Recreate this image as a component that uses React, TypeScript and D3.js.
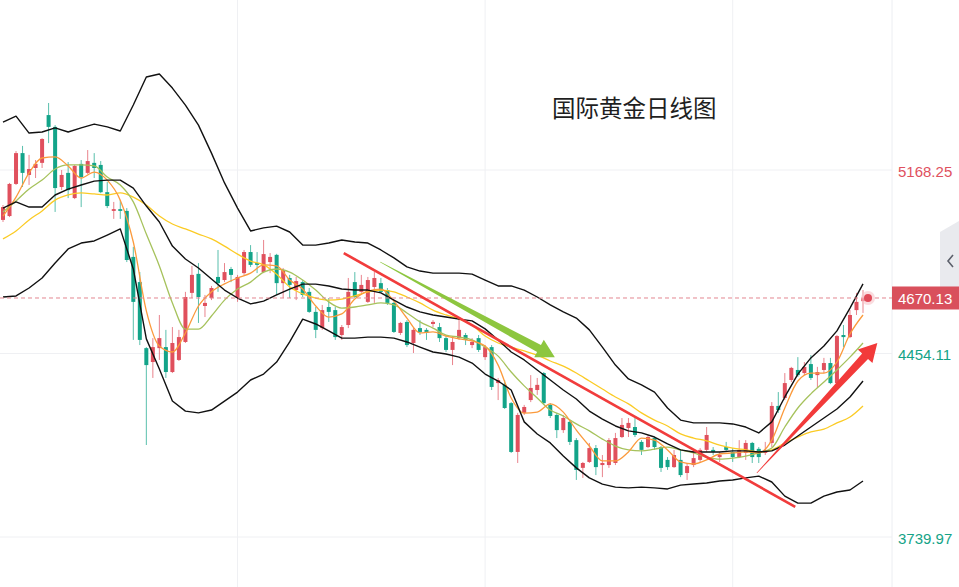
import React from 'react';
import * as d3 from 'd3';

// ---- candle data (daily, oldest -> newest) ----
const openP = [4974,4989,5114,5234,5149,5176,5196,5382,5336,5102,
5157,5059,5192,5157,5196,5188,5082,5009,5016,5009,
4830,4732,4475,4421,4475,4479,4382,4429,4499,4690,
4764,4639,4670,4752,4740,4783,4670,4767,4849,4806,
4771,4810,4838,4728,4748,4701,4732,4694,4616,4553,
4635,4623,4526,4565,4732,4694,4655,4713,4728,4701,
4651,4534,4577,4495,4553,4546,4569,4557,4514,4468,
4514,4526,4487,4514,4440,4479,4339,4332,4261,4071,
4223,4273,4312,4378,4254,4215,4156,4188,4117,4009,
4032,4086,4020,4020,4028,4129,4164,4168,4110,4090,
4125,4090,4040,4012,4040,3989,4020,4040,4079,4079,
4051,4090,4071,4051,4067,4106,4083,4067,4106,4250,
4281,4351,4390,4378,4413,4370,4390,4417,4339,4526,
4518,4623,4658];
const highP = [5032,5118,5242,5262,5227,5207,5292,5429,5343,5168,
5199,5188,5207,5246,5234,5203,5122,5044,5051,5020,
4869,4771,4479,4514,4604,4546,4557,4546,4694,4795,
4806,4682,4717,4857,4806,4791,4760,4857,4876,4849,
4896,4845,4842,4787,4760,4752,4740,4709,4635,4643,
4670,4635,4565,4748,4771,4760,4752,4771,4748,4709,
4655,4577,4584,4553,4584,4553,4584,4573,4526,4522,
4596,4534,4514,4526,4487,4487,4359,4351,4265,4223,
4254,4370,4359,4382,4261,4223,4215,4195,4125,4032,
4106,4098,4059,4125,4145,4203,4203,4203,4117,4137,
4129,4094,4051,4079,4079,4028,4079,4086,4168,4090,
4071,4110,4086,4117,4117,4110,4090,4110,4265,4304,
4378,4402,4440,4421,4448,4402,4437,4437,4526,4565,
4623,4690,4701];
const lowP = [4966,4985,5110,5102,5110,5137,5176,5273,5005,5090,
5059,5055,5024,5152,5137,5078,5020,4978,4978,4810,
4507,4487,4098,4359,4429,4359,4378,4425,4495,4670,
4573,4596,4662,4694,4732,4732,4655,4760,4791,4767,
4767,4767,4682,4670,4670,4662,4674,4612,4514,4546,
4577,4507,4507,4553,4670,4690,4651,4651,4690,4643,
4534,4526,4479,4456,4526,4507,4557,4499,4460,4409,
4507,4487,4475,4460,4429,4312,4273,4238,4067,4028,
4215,4265,4293,4254,4203,4125,4145,4098,3962,3970,
4028,3981,3973,4009,4020,4125,4129,4129,4059,4086,
4079,3993,4001,4009,3973,3962,4012,4032,4071,4059,
4032,4075,4032,4047,4040,4028,4028,4059,4090,4223,
4273,4343,4363,4370,4351,4320,4378,4335,4335,4479,
4514,4604,4612];
const closeP = [5024,5114,5234,5157,5172,5192,5289,5336,5098,5149,
5090,5184,5141,5203,5176,5082,5028,5016,5009,4818,
4655,4507,4409,4479,4514,4382,4495,4518,4674,4760,
4674,4651,4709,4728,4771,4760,4752,4849,4799,4799,
4841,4830,4728,4779,4721,4736,4682,4616,4546,4623,
4616,4518,4557,4694,4674,4721,4740,4748,4694,4651,
4538,4573,4487,4546,4538,4534,4577,4514,4468,4499,
4546,4507,4499,4468,4479,4324,4351,4242,4071,4215,
4246,4320,4332,4261,4211,4156,4203,4110,4001,4028,
4086,4012,4028,4117,4125,4176,4184,4137,4079,4129,
4090,4009,4012,4059,3981,4016,4047,4079,4137,4071,
4059,4079,4051,4079,4106,4051,4051,4079,4250,4234,
4339,4398,4370,4402,4359,4382,4417,4339,4522,4518,
4604,4655,4670.13];

// ---- indicator lines, one value every 2 candles ----
const lineStep = 2;
const bollUpper = [5355,5378,5312,5316,5332,5316,5332,5347,5336,5320,
5421,5530,5542,5487,5421,5343,5234,5118,5020,4931,
4943,4950,4927,4876,4876,4884,4896,4888,4884,4857,
4826,4791,4775,4767,4767,4767,4763,4740,4717,4717,
4701,4674,4643,4616,4592,4546,4479,4409,4355,4332,
4304,4242,4195,4184,4184,4184,4180,4168,4145,4188,
4285,4374,4437,4483,4542,4631,4725];
const bollMid = [5020,5044,5024,5024,5071,5094,5110,5125,5129,5129,
5098,5028,4966,4872,4822,4787,4744,4701,4670,4647,
4658,4682,4705,4724,4724,4717,4705,4701,4701,4690,
4662,4635,4616,4604,4596,4588,4581,4550,4507,4460,
4429,4390,4351,4312,4277,4230,4199,4172,4153,4145,
4129,4102,4079,4071,4071,4071,4075,4075,4071,4075,
4098,4133,4168,4203,4238,4285,4347];
const bollLower = [4674,4678,4709,4748,4806,4861,4884,4892,4915,4939,
4783,4511,4394,4269,4230,4223,4234,4269,4304,4351,
4374,4421,4499,4588,4569,4542,4514,4514,4518,4518,
4514,4499,4479,4460,4452,4440,4417,4374,4347,4312,
4188,4141,4106,4055,4009,3970,3946,3934,3931,3934,
3931,3927,3942,3946,3950,3958,3962,3970,3977,3954,
3899,3872,3872,3899,3915,3923,3958];
const maFast = [4989,5063,5157,5215,5219,5184,5137,5160,5129,5051,
4888,4620,4483,4460,4534,4639,4694,4725,4748,4767,
4799,4795,4740,4705,4639,4596,4608,4666,4697,4705,
4658,4592,4534,4538,4522,4511,4503,4483,4409,4281,
4222,4226,4258,4226,4156,4094,4036,4036,4071,4125,
4117,4079,4032,4024,4040,4063,4067,4071,4067,4117,
4242,4347,4378,4378,4421,4530,4604];
const maMid = [5005,5048,5094,5129,5172,5188,5188,5184,5141,5110,
5044,4919,4795,4651,4549,4549,4600,4662,4705,4732,
4771,4783,4771,4740,4701,4655,4631,4635,4643,4651,
4643,4612,4577,4553,4526,4518,4507,4479,4444,4382,
4328,4281,4234,4211,4180,4153,4121,4094,4079,4075,
4082,4090,4079,4067,4051,4043,4047,4055,4067,4086,
4168,4242,4297,4343,4390,4440,4495];
const maSlow = [4900,4931,4974,5009,5051,5071,5079,5075,5071,5079,
5063,5032,4989,4958,4939,4919,4900,4872,4841,4814,
4799,4763,4713,4686,4670,4662,4666,4678,4694,4701,
4694,4674,4651,4623,4604,4588,4565,4522,4495,4479,
4464,4448,4425,4405,4378,4347,4316,4285,4258,4223,
4195,4172,4141,4125,4114,4098,4086,4079,4071,4079,
4106,4129,4149,4160,4184,4207,4250];

// ---- axis / annotation values ----
const axisLabels = [5168.25, 4670.13, 4454.11, 3739.97];
const gridPrices = [5168.25, 4454.11, 3739.97];
const gridCandles = [36, 74, 112];
const lastPrice = 4670.13;
const titleText = '国际黄金日线图';
const trendStart = [52.3, 4845];
const trendEnd = [121.6, 3857];
const greenArrowTail = [57.9, 4810];
const greenArrowTip = [84.7, 4440];
const redArrowTail = [115.7, 3989];
const redArrowTip = [134.2, 4495];

const W = 959;
const H = 587;
const PLOT_R = 892;
const UP = '#e0505d';
const DOWN = '#13a489';

function taperArrow(x0: number, y0: number, x1: number, y1: number, wTail: number, wShaft: number, headW: number, headL: number) {
  const dx = x1 - x0, dy = y1 - y0;
  const L = Math.hypot(dx, dy);
  const ux = dx / L, uy = dy / L;
  const nx = -uy, ny = ux;
  const bx = x1 - ux * headL, by = y1 - uy * headL;
  const pts = [
    [x0 + nx * wTail / 2, y0 + ny * wTail / 2],
    [bx + nx * wShaft / 2, by + ny * wShaft / 2],
    [bx + nx * headW / 2, by + ny * headW / 2],
    [x1, y1],
    [bx - nx * headW / 2, by - ny * headW / 2],
    [bx - nx * wShaft / 2, by - ny * wShaft / 2],
    [x0 - nx * wTail / 2, y0 - ny * wTail / 2],
  ];
  return 'M' + pts.map(p => p[0].toFixed(2) + ',' + p[1].toFixed(2)).join('L') + 'Z';
}

export default function App() {
  const n = closeP.length;
  const x = d3.scaleLinear().domain([0, n - 1]).range([3, 863]);
  const y = d3.scaleLinear().domain([3739.97, 5168.25]).range([537, 170]);

  const linGen = d3.line<number>().x((_, i) => x(i * lineStep)).y(d => y(d)).curve(d3.curveLinear);
  const smoothGen = d3.line<number>().x((_, i) => x(i * lineStep)).y(d => y(d)).curve(d3.curveMonotoneX);

  const lastY = y(lastPrice);
  const labelColor = (v: number) => (v > lastPrice ? '#e0515e' : '#14a387');

  const gA = taperArrow(x(greenArrowTail[0]), y(greenArrowTail[1]), x(greenArrowTip[0]), y(greenArrowTip[1]), 0.6, 8, 20, 18);
  const rA = taperArrow(x(redArrowTail[0]), y(redArrowTail[1]), x(redArrowTip[0]), y(redArrowTip[1]), 0.6, 8, 20, 18);

  return (
    <svg width={W} height={H} style={{ position: 'absolute', left: 0, top: 0, background: '#fff' }}>
      <rect x={0} y={0} width={W} height={H} fill="#ffffff" />
      {/* grid */}
      {gridPrices.map((v, i) => (
        <line key={'gh' + i} x1={0} x2={PLOT_R} y1={y(v)} y2={y(v)} stroke="#eff0f3" strokeWidth={1} />
      ))}
      {gridCandles.map((c, i) => (
        <line key={'gv' + i} x1={x(c)} x2={x(c)} y1={0} y2={H} stroke="#eff0f3" strokeWidth={1} />
      ))}
      <line x1={PLOT_R} x2={PLOT_R} y1={0} y2={H} stroke="#eceef2" strokeWidth={1} />

      {/* title */}
      <text x={552} y={117} fontFamily="'Noto Sans CJK SC', sans-serif" fontSize={23.5} fill="#1f1f1f">{titleText}</text>

      {/* candles */}
      {closeP.map((c, i) => {
        const o = openP[i];
        const col = c >= o ? UP : DOWN;
        const top = y(Math.max(o, c));
        const h = Math.max(1, Math.abs(y(o) - y(c)));
        const cx = x(i);
        return (
          <g key={'c' + i}>
            <line x1={cx} x2={cx} y1={y(highP[i])} y2={y(lowP[i])} stroke={col} strokeOpacity={0.7} strokeWidth={1} />
            <rect x={cx - 2} y={top} width={4} height={h} fill={col} />
          </g>
        );
      })}

      {/* indicator lines */}
      <path d={smoothGen(maSlow) || ''} fill="none" stroke="#fbcb25" strokeWidth={1.3} />
      <path d={smoothGen(maMid) || ''} fill="none" stroke="#a6c25c" strokeWidth={1.3} />
      <path d={smoothGen(maFast) || ''} fill="none" stroke="#fb9a3c" strokeWidth={1.3} />
      <path d={linGen(bollUpper) || ''} fill="none" stroke="#111" strokeWidth={1.4} strokeLinejoin="round" />
      <path d={linGen(bollMid) || ''} fill="none" stroke="#111" strokeWidth={1.4} strokeLinejoin="round" />
      <path d={linGen(bollLower) || ''} fill="none" stroke="#111" strokeWidth={1.4} strokeLinejoin="round" />

      {/* current price line */}
      <line x1={0} x2={PLOT_R} y1={lastY} y2={lastY} stroke="#e38690" strokeWidth={1} strokeDasharray="4 3" />

      {/* annotations */}
      <line x1={x(trendStart[0])} y1={y(trendStart[1])} x2={x(trendEnd[0])} y2={y(trendEnd[1])} stroke="#f13c3c" strokeWidth={2.6} />
      <path d={gA} fill="#8dc63f" />
      <path d={rA} fill="#f23a3a" />

      {/* last price dot */}
      <circle cx={x(n - 1) + 5} cy={lastY} r={7} fill="#f6c5c9" opacity={0.6} />
      <circle cx={x(n - 1) + 5} cy={lastY} r={4} fill="#e04a58" />

      {/* side tab */}
      <path d="M940,232L959,221L959,287L940,287Z" fill="#e9eaee" />
      <polyline points="953,255 948,261 953,267" fill="none" stroke="#5c606b" strokeWidth={1.6} />

      {/* axis labels */}
      {axisLabels.map((v, i) => {
        const isLast = v === lastPrice;
        const ty = Math.min(y(v) + 1, 541);
        return (
          <g key={'al' + i}>
            {isLast && <rect x={PLOT_R} y={lastY - 11.5} width={W - PLOT_R} height={23} fill="#d9505c" />}
            <text x={898} y={ty} dominantBaseline="central" fontFamily="'Liberation Sans', Arial, sans-serif" fontSize={15}
              fill={isLast ? '#ffffff' : labelColor(v)}>{v.toFixed(2)}</text>
          </g>
        );
      })}
    </svg>
  );
}
